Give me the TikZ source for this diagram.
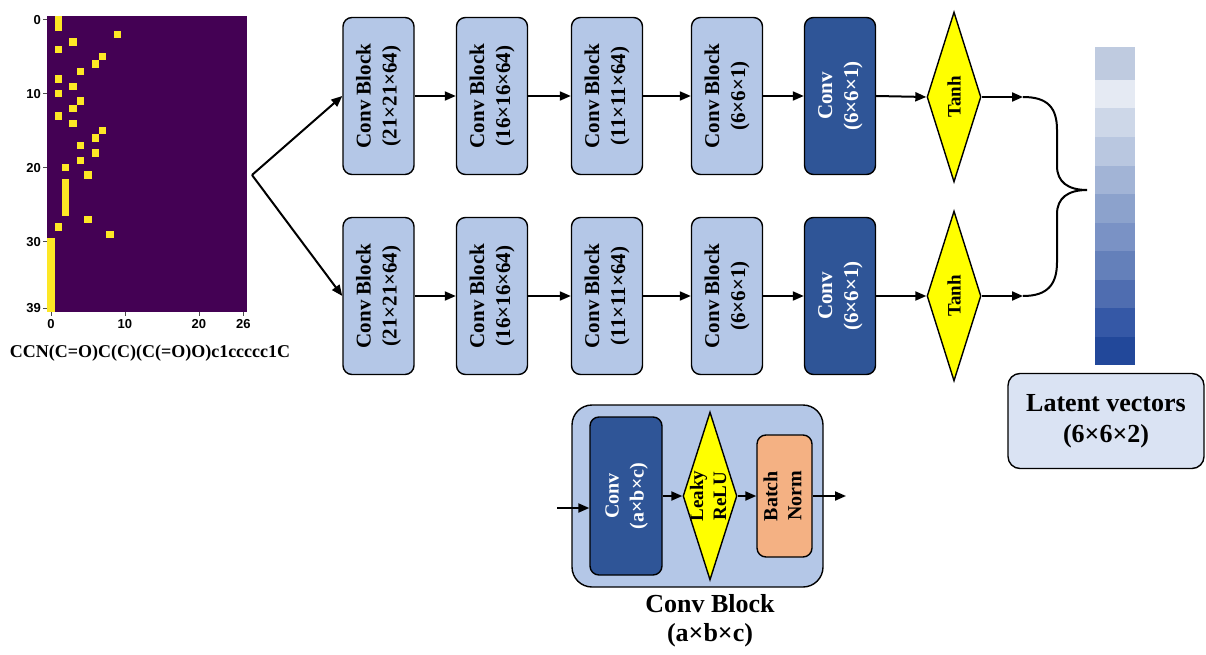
\documentclass[tikz,border=0pt]{standalone}
\usepackage{fontspec}
\setmainfont{Liberation Serif}
\newfontfamily\axfont{Liberation Sans}
\usetikzlibrary{arrows.meta,shapes.geometric}
\definecolor{vpurple}{HTML}{440154}
\definecolor{vyellow}{HTML}{FDE725}
\definecolor{blkfill}{HTML}{B4C7E7}
\definecolor{convdark}{HTML}{2F5597}
\definecolor{bnfill}{HTML}{F4B183}
\definecolor{latfill}{HTML}{DAE3F3}
\definecolor{tyellow}{HTML}{FFFF00}
\newcommand\vtxt[2]{\rotatebox{90}{\begin{tabular}{@{}c@{}}#1\\#2\end{tabular}}}
\begin{document}
\begin{tikzpicture}[x=1pt,y=-1pt,
  blk/.style={draw=black, line width=1.4pt, rounded corners=9pt, fill=blkfill,
    minimum width=71pt, minimum height=157pt, inner sep=0pt,
    font=\fontsize{21}{26}\selectfont\bfseries},
  dconv/.style={blk, fill=convdark, text=white},
  tanhd/.style={diamond, draw=black, line width=1.4pt, fill=tyellow,
    minimum width=54pt, minimum height=170pt, inner sep=0pt},
  vlab/.style={rotate=90, font=\fontsize{19}{22}\selectfont\bfseries, inner sep=0pt},
  arr/.style={line width=2pt, -{Triangle[length=11pt,width=9pt]}},
  tick/.style={line width=0.8pt, black!70},
  ticklab/.style={font=\axfont\fontsize{13}{15}\selectfont\bfseries, inner sep=0pt}
]
\useasboundingbox (0,0) rectangle (1206,655);

% ---------------- heatmap ----------------
\def\cs{7.4}
\fill[vpurple] (47.2,16) rectangle ++(27*\cs,40*\cs);
\foreach \c/\r in {1/0,1/1,9/2,3/3,1/4,7/5,6/6,4/7,1/8,3/9,1/10,4/11,3/12,1/13,3/14,7/15,6/16,4/17,6/18,4/19,2/20,5/21,2/22,2/23,2/24,2/25,2/26,5/27,1/28,8/29,0/30,0/31,0/32,0/33,0/34,0/35,0/36,0/37,0/38,0/39}
  \fill[vyellow] (47.2+\c*\cs,16+\r*\cs) rectangle ++(\cs,\cs);
\foreach \r in {0,10,20,30,39} {
  \draw[tick] (43.2,16+\r*\cs+0.5*\cs) -- (47.2,16+\r*\cs+0.5*\cs);
  \node[ticklab, anchor=east] (yl\r) at (41,16+\r*\cs+0.5*\cs) {\r};
}
\foreach \c in {0,10,20,26} {
  \draw[tick] (47.2+\c*\cs+0.5*\cs,312) -- (47.2+\c*\cs+0.5*\cs,316);
  \node[ticklab] (xl\c) at (47.2+\c*\cs+0.5*\cs,324) {\c};
}
\node[font=\fontsize{18}{20}\selectfont\bfseries, inner sep=0pt] (smiles) at (150,353) {CCN(C=O)C(C)(C(=O)O)c1ccccc1C};

% ---------------- top branch ----------------
\node[blk] (t1) at (378.5,96) {\vtxt{Conv Block}{(21×21×64)}};
\node[blk] (t2) at (492,96) {\vtxt{Conv Block}{(16×16×64)}};
\node[blk] (t3) at (607,96) {\vtxt{Conv Block}{(11×11×64)}};
\node[blk] (t4) at (727,96) {\vtxt{Conv Block}{(6×6×1)}};
\node[dconv] (tc) at (840,96) {\vtxt{Conv}{(6×6×1)}};
\node[tanhd] (tt) at (954,97) {};
\node[vlab] (ttl) at (tt.center) {Tanh};

% ---------------- bottom branch ----------------
\node[blk] (b1) at (378.5,296) {\vtxt{Conv Block}{(21×21×64)}};
\node[blk] (b2) at (492,296) {\vtxt{Conv Block}{(16×16×64)}};
\node[blk] (b3) at (607,296) {\vtxt{Conv Block}{(11×11×64)}};
\node[blk] (b4) at (727,296) {\vtxt{Conv Block}{(6×6×1)}};
\node[dconv] (bc) at (840,296) {\vtxt{Conv}{(6×6×1)}};
\node[tanhd] (bt) at (954,296) {};
\node[vlab] (btl) at (bt.center) {Tanh};

% split arrows
\coordinate (split) at (252,175);
\draw[arr] (split) -- (t1.west);
\draw[arr] (split) -- (b1.west);

\foreach \a/\b in {t1/t2,t2/t3,t3/t4,t4/tc,tc/tt,b1/b2,b2/b3,b3/b4,b4/bc,bc/bt}
  \draw[arr] (\a.east) -- (\b.west);

% brace
\coordinate (br1) at (1023,97);
\coordinate (br2) at (1023,296);
\draw[arr] (tt.east) -- (br1);
\draw[arr] (bt.east) -- (br2);
\draw[line width=2pt] (br1) .. controls (1048,97) and (1057,108) .. (1057,130)
  -- (1057,166) .. controls (1057,182) and (1068,190) .. (1087,190)
  .. controls (1068,190) and (1057,198) .. (1057,214)
  -- (1057,262) .. controls (1057,284) and (1048,296) .. (br2);

% latent bar
\foreach \ya/\yb/\col in {47/80/BFCBE0,80/108.3/E5EAF3,108.3/136.7/CDD7E8,136.7/165.7/B9C7E0,165.7/194.3/A2B4D6,194.3/222.7/8CA2CC,222.7/251/7A92C5,251/280/6480BA,280/308.3/4F6DB0,308.3/336.7/3558A6,336.7/365/22489A}{
  \definecolor{cellc}{HTML}{\col}
  \fill[cellc] (1095,\ya) rectangle (1135,\yb);
}
\node[draw=black, line width=1.4pt, rounded corners=12pt, fill=latfill,
  minimum width=196pt, minimum height=95pt, inner sep=0pt,
  align=center, font=\fontsize{26}{31}\selectfont\bfseries] (lat) at (1106,421) {Latent vectors\\(6×6×2)};

% ---------------- conv block detail ----------------
\node[draw=black, line width=1.4pt, rounded corners=20pt, fill=blkfill,
  minimum width=251pt, minimum height=182pt, inner sep=0pt] (cb) at (697.5,496) {};
\node[draw=black, line width=1.4pt, rounded corners=9pt, fill=convdark, text=white,
  minimum width=72pt, minimum height=158pt, inner sep=0pt,
  font=\fontsize{20}{25}\selectfont\bfseries] (cc) at (626,496) {\vtxt{Conv}{(a×b×c)}};
\node[tanhd, minimum height=168pt] (lr) at (710,496) {};
\node[rotate=90, inner sep=0pt, font=\fontsize{19}{23}\selectfont\bfseries] (lrl) at (lr.center) {\begin{tabular}{@{}c@{}}Leaky\\ReLU\end{tabular}};
\node[draw=black, line width=1.4pt, rounded corners=9pt, fill=bnfill,
  minimum width=55pt, minimum height=122pt, inner sep=0pt,
  font=\fontsize{20}{24}\selectfont\bfseries] (bn) at (784.5,496) {\vtxt{Batch}{Norm}};
\coordinate (in) at (557,508);
\coordinate (out) at (846,496);
\draw[arr] (in) -- (cc.west |- in);
\draw[arr] (cc.east) -- (lr.west);
\draw[arr] (lr.east) -- (bn.west);
\draw[arr] (bn.east) -- (out);
\node[align=center, font=\fontsize{26}{29}\selectfont\bfseries, inner sep=0pt] (cbl) at (710,621) {Conv Block\\(a×b×c)};
\end{tikzpicture}
\end{document}
